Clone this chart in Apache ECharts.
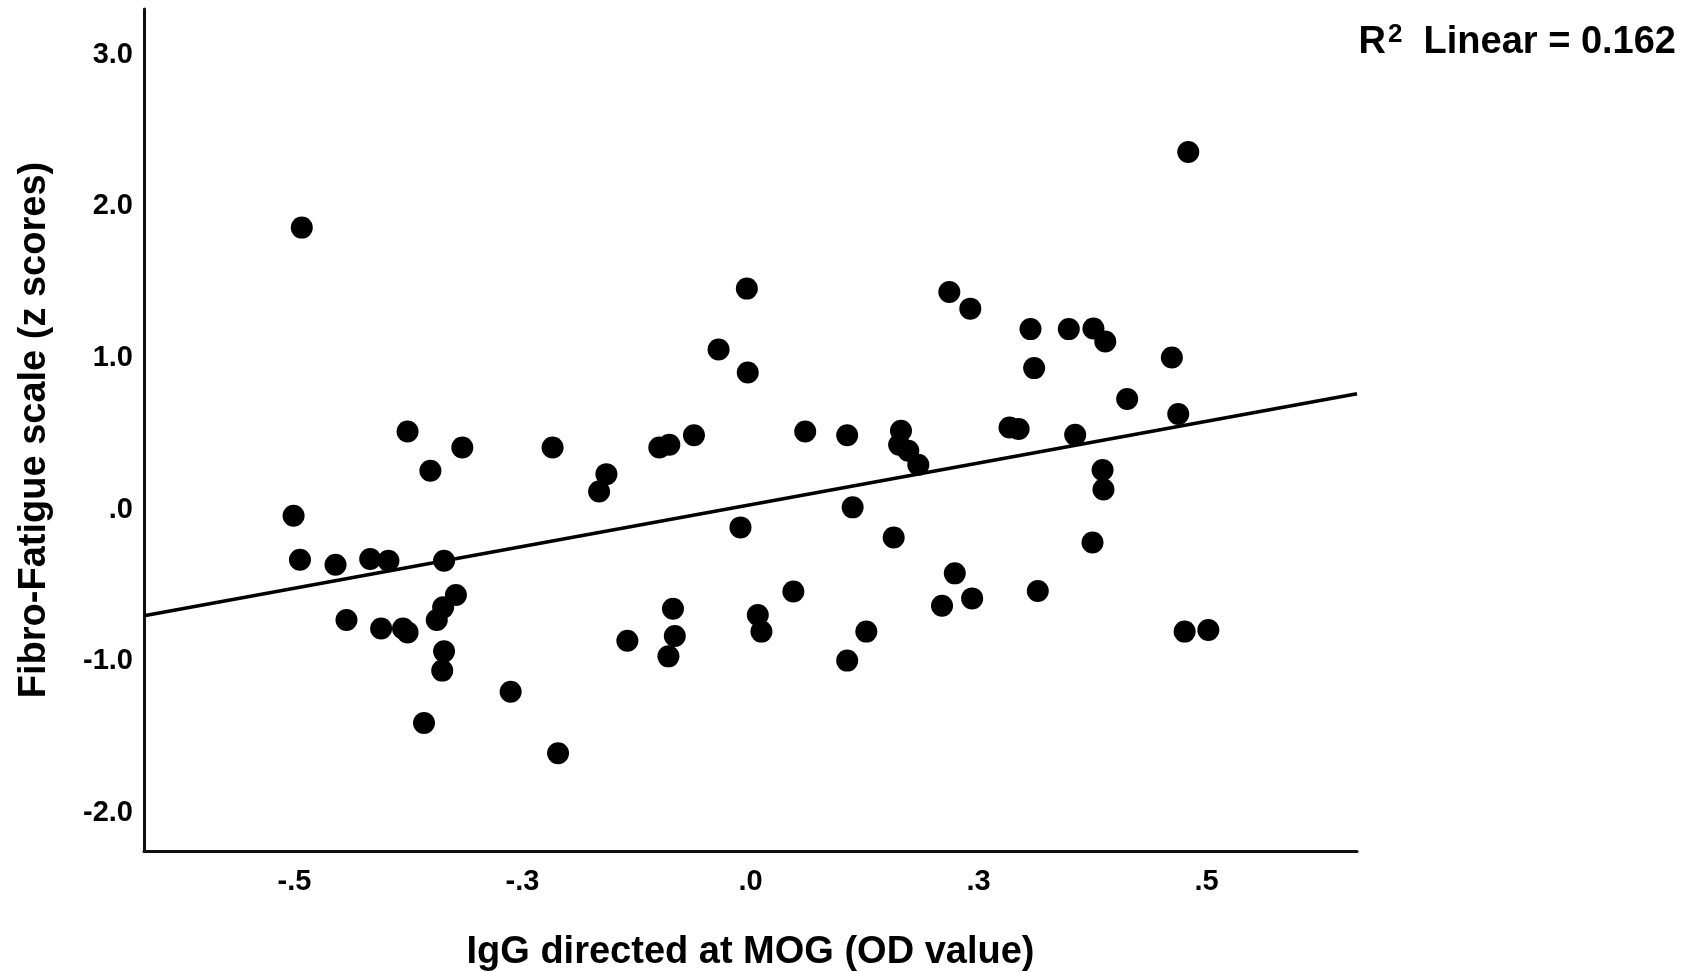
<!DOCTYPE html>
<html>
<head>
<meta charset="utf-8">
<script src="https://cdn.jsdelivr.net/npm/echarts@6/dist/echarts.min.js"></script>
<style>
html,body{margin:0;padding:0;background:#fff;}
#chart{width:1694px;height:972px;}
</style>
</head>
<body>
<div id="chart"></div>
<script>
// IgG directed at MOG (OD value)
const xValues = [
  -0.492, -0.501, -0.494, -0.455, -0.417, -0.397, -0.336, -0.376, -0.316, -0.351,
  -0.217, -0.443, -0.405, -0.381, -0.376, -0.323, -0.337, -0.344, -0.336, -0.338,
  -0.263, -0.358, -0.211, -0.004, -0.035, -0.003,  0.218, -0.158, -0.166, -0.100,
  -0.089, -0.062,  0.060,  0.106,  0.165,  0.163,  0.173,  0.184, -0.011,  0.112,
   0.157, -0.135, -0.085, -0.083, -0.090,  0.008,  0.012,  0.047,  0.127,  0.106,
   0.224,  0.210,  0.480,  0.241,  0.307,  0.349,  0.376,  0.389,  0.311,  0.462,
   0.413,  0.469,  0.284,  0.294,  0.356,  0.386,  0.387,  0.375,  0.243,  0.315,
   0.476,  0.502
];
// Fibro-Fatigue scale (z scores)
const yValues = [
   1.859, -0.040, -0.330, -0.363, -0.325, -0.337, -0.337,  0.515,  0.410,  0.256,
   0.410, -0.727, -0.783, -0.783, -0.809, -0.563, -0.644, -0.727, -0.934, -1.061,
  -1.200, -1.406, -1.606,  1.457,  1.055,  0.904,  1.435,  0.234,  0.120,  0.410,
   0.428,  0.491,  0.515,  0.491,  0.520,  0.428,  0.388,  0.296, -0.117,  0.015,
  -0.183, -0.864, -0.653, -0.833, -0.967, -0.694, -0.804, -0.539, -0.804, -0.995,
  -0.420, -0.633,  2.358,  1.325,  1.190,  1.190,  1.194,  1.108,  0.933,  1.003,
   0.729,  0.630,  0.542,  0.531,  0.493,  0.261,  0.133, -0.216, -0.585, -0.536,
  -0.804, -0.793
];
const xTickValues = [-0.5, -0.25, 0, 0.25, 0.5];
const xTickLabels = ['-.5', '-.3', '.0', '.3', '.5'];
const yTickValues = [-2, -1, 0, 1, 2, 3];
const yTickLabels = ['-2.0', '-1.0', '.0', '1.0', '2.0', '3.0'];
const xMin = -0.665, xMax = 0.665;
const yMin = -2.25, yMax = 3.3;
const fitSlope = 1.10;
const fitIntercept = 0.032;
const rSquaredText = '0.162';
const xTitle = 'IgG directed at MOG (OD value)';
const yTitle = 'Fibro-Fatigue scale (z scores)';

const points = xValues.map((x, i) => [x, yValues[i]]);
const fitLine = [[xMin, fitIntercept + fitSlope * xMin], [xMax, fitIntercept + fitSlope * xMax]];

const FONT = '"Liberation Sans", Arial, sans-serif';
const chart = echarts.init(document.getElementById('chart'), null, {renderer: 'canvas'});
chart.setOption({
  backgroundColor: '#ffffff',
  animation: false,
  title: {
    text: '{r|R}{sup|2}{r|  Linear = ' + rSquaredText + '}',
    right: 13,
    top: 17,
    textStyle: {
      rich: {
        r: {fontFamily: FONT, fontWeight: 'bold', fontSize: 38, color: '#000', verticalAlign: 'bottom'},
        sup: {fontFamily: FONT, fontWeight: 'bold', fontSize: 26, color: '#000', verticalAlign: 'top', padding: [0, 0, 14, 2]}
      }
    }
  },
  grid: {left: 144, right: 337, top: 9, bottom: 121, containLabel: false, outerBoundsMode: 'none'},
  xAxis: {
    type: 'value',
    min: xMin, max: xMax,
    name: xTitle,
    nameLocation: 'middle',
    nameGap: 83,
    nameTextStyle: {fontFamily: FONT, fontWeight: 'bold', fontSize: 38, color: '#000'},
    axisLine: {show: true, onZero: false, lineStyle: {color: '#111', width: 3}},
    axisTick: {show: false},
    splitLine: {show: false},
    axisLabel: {
      customValues: xTickValues,
      formatter: v => xTickLabels[xTickValues.findIndex(t => Math.abs(t - v) < 1e-9)] || '',
      fontFamily: FONT, fontWeight: 'bold', fontSize: 29, color: '#000', margin: 16
    }
  },
  yAxis: {
    type: 'value',
    min: yMin, max: yMax,
    name: yTitle,
    nameLocation: 'middle',
    nameGap: 90,
    nameRotate: 90,
    nameTextStyle: {fontFamily: FONT, fontWeight: 'bold', fontSize: 38, color: '#000'},
    axisLine: {show: true, onZero: false, lineStyle: {color: '#111', width: 3}},
    axisTick: {show: false},
    splitLine: {show: false},
    axisLabel: {
      customValues: yTickValues,
      formatter: v => yTickLabels[yTickValues.findIndex(t => Math.abs(t - v) < 1e-9)] || '',
      fontFamily: FONT, fontWeight: 'bold', fontSize: 29, color: '#000', margin: 11
    }
  },
  series: [
    {
      type: 'line',
      data: fitLine,
      showSymbol: false,
      symbol: 'none',
      lineStyle: {color: '#000', width: 3.5},
      z: 1,
      silent: true
    },
    {
      type: 'scatter',
      data: points,
      symbol: 'circle',
      symbolSize: 22,
      itemStyle: {color: '#000', opacity: 1},
      z: 2
    }
  ]
});
</script>
</body>
</html>
